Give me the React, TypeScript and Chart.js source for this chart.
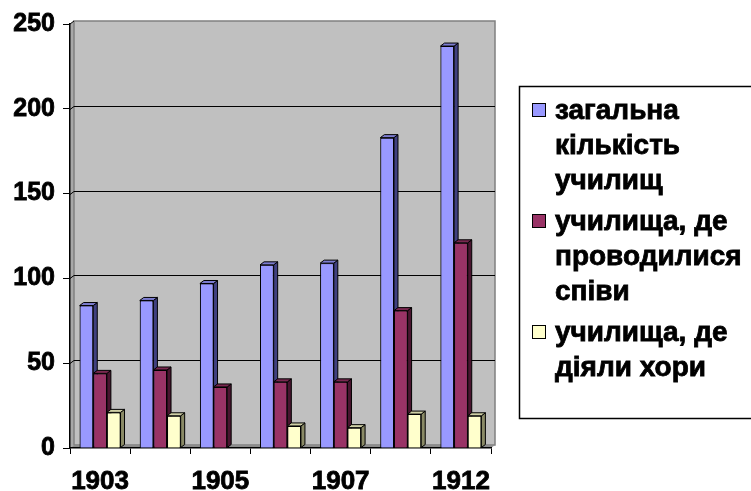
import React, { useEffect, useRef } from "react";
import { Chart, registerables } from "chart.js";

Chart.register(...registerables);

const categories = ["1903", "1904", "1905", "1906", "1907", "1908", "1912"];
const xTickLabels = ["1903", "", "1905", "", "1907", "", "1912"];
const yTicks = [0, 50, 100, 150, 200, 250];

const totalSchools = [84, 87, 97, 108, 109, 183, 237];
const singingSchools = [44, 46, 36, 39, 39, 81, 121];
const choirSchools: (number | null)[] = [21, 19, null, 13, 12, 20, 19];

const seriesLabels = [
  ["загальна", "кількість", "училищ"],
  ["училища, де", "проводилися", "співи"],
  ["училища, де", "діяли хори"],
];

const frontColors = ["#9999FF", "#993366", "#FFFFCC"];
const sideColors = ["#404080", "#4A1530", "#8A8A66"];
const topColors = ["#7C7CD0", "#7A2850", "#D0D0A6"];

const FONT = "'Liberation Sans', Arial, sans-serif";
const DX = 4;
const DY = 3;

const wallsPlugin = {
  id: "walls",
  beforeDraw(chart: any) {
    const { ctx, chartArea } = chart;
    const { left: L, right: R, top: T, bottom: B } = chartArea;
    ctx.save();
    ctx.fillStyle = "#A8A8A8";
    ctx.beginPath();
    ctx.moveTo(L, B);
    ctx.lineTo(L, T);
    ctx.lineTo(L + DX, T - DY);
    ctx.lineTo(L + DX, B - DY);
    ctx.closePath();
    ctx.fill();
    ctx.fillStyle = "#C0C0C0";
    ctx.fillRect(L + DX, T - DY, R - L, B - T);
    ctx.strokeStyle = "#808080";
    ctx.lineWidth = 1.5;
    ctx.strokeRect(L + DX, T - DY, R - L, B - T);
    ctx.fillStyle = "#8C8C8C";
    ctx.beginPath();
    ctx.moveTo(L, B);
    ctx.lineTo(L + DX, B - DY);
    ctx.lineTo(R + DX, B - DY);
    ctx.lineTo(R, B);
    ctx.closePath();
    ctx.fill();
    const ys = chart.scales.y;
    ctx.strokeStyle = "#000000";
    ctx.lineWidth = 1;
    yTicks.forEach((v) => {
      if (v === 0 || v === 250) return;
      const py = Math.round(ys.getPixelForValue(v)) + 0.5;
      ctx.beginPath();
      ctx.moveTo(L, py);
      ctx.lineTo(L + DX, py - DY);
      ctx.lineTo(R + DX, py - DY);
      ctx.stroke();
    });
    const pTop = ys.getPixelForValue(250);
    ctx.beginPath();
    ctx.moveTo(L, pTop);
    ctx.lineTo(L + DX, pTop - DY);
    ctx.stroke();
    ctx.restore();
  },
};

// Redraw bars in series order (first series first) so each following bar covers the previous bar's side face.
const barsPlugin = {
  id: "bars3d",
  afterDatasetsDraw(chart: any) {
    const { ctx } = chart;
    ctx.save();
    chart.data.datasets.forEach((ds: any, idx: number) => {
      const meta = chart.getDatasetMeta(idx);
      meta.data.forEach((el: any, i: number) => {
        if (ds.data[i] == null) return;
        el.draw(ctx);
        const { x, y, width, base } = el.getProps(["x", "y", "width", "base"], true);
        const l = x - width / 2;
        const r = x + width / 2;
        ctx.lineWidth = 1;
        ctx.strokeStyle = "#000000";
        ctx.fillStyle = sideColors[idx];
        ctx.beginPath();
        ctx.moveTo(r, y);
        ctx.lineTo(r + DX, y - DY);
        ctx.lineTo(r + DX, base - DY);
        ctx.lineTo(r, base);
        ctx.closePath();
        ctx.fill();
        ctx.stroke();
        ctx.fillStyle = topColors[idx];
        ctx.beginPath();
        ctx.moveTo(l, y);
        ctx.lineTo(l + DX, y - DY);
        ctx.lineTo(r + DX, y - DY);
        ctx.lineTo(r, y);
        ctx.closePath();
        ctx.fill();
        ctx.stroke();
      });
    });
    ctx.restore();
  },
};

const legendPlugin = {
  id: "customLegend",
  afterDraw(chart: any) {
    const { ctx } = chart;
    ctx.save();
    ctx.fillStyle = "#FFFFFF";
    ctx.fillRect(519, 86, 240, 332);
    ctx.strokeStyle = "#000000";
    ctx.lineWidth = 1.5;
    ctx.strokeRect(519.5, 86.5, 240, 332);
    ctx.font = `bold 28px ${FONT}`;
    ctx.textBaseline = "alphabetic";
    ctx.textAlign = "left";
    const lineH = 35;
    let baseline = 119;
    seriesLabels.forEach((lines, i) => {
      ctx.fillStyle = frontColors[i];
      ctx.fillRect(532, baseline - 16, 13, 13);
      ctx.strokeStyle = "#000000";
      ctx.lineWidth = 1;
      ctx.strokeRect(532.5, baseline - 15.5, 13, 13);
      ctx.fillStyle = "#000000";
      ctx.lineWidth = 0.8;
      lines.forEach((t, j) => {
        ctx.fillText(t, 555, baseline + j * lineH);
        ctx.strokeText(t, 555, baseline + j * lineH);
      });
      baseline += lines.length * lineH + 6;
    });
    ctx.restore();
  },
};

export default function App() {
  const ref = useRef<HTMLCanvasElement | null>(null);
  useEffect(() => {
    if (!ref.current) return;
    const datasets = [totalSchools, singingSchools, choirSchools].map((d, i) => ({
      label: seriesLabels[i].join(" "),
      data: d,
      backgroundColor: frontColors[i],
      borderColor: "#000000",
      borderWidth: 1,
      categoryPercentage: 0.68,
      barPercentage: 1.0,
    }));
    const chart = new Chart(ref.current, {
      type: "bar",
      data: { labels: categories, datasets },
      plugins: [wallsPlugin, barsPlugin, legendPlugin],
      options: {
        animation: false,
        responsive: false,
        maintainAspectRatio: false,
        layout: { padding: { top: 24, right: 260, bottom: 0, left: 0 } },
        plugins: { legend: { display: false }, tooltip: { enabled: false } },
        scales: {
          x: {
            afterFit: (s: any) => {
              s.height = 43;
            },
            grid: {
              offset: true,
              drawOnChartArea: false,
              drawTicks: true,
              tickLength: 6,
              color: "#000000",
            },
            border: { display: true, color: "#000000", width: 1.5 },
            ticks: {
              autoSkip: false,
              maxRotation: 0,
              padding: 12,
              color: "#000000",
              textStrokeColor: "#000000",
              textStrokeWidth: 0.8,
              font: { family: FONT, size: 26, weight: "bold" },
              callback: (_v: any, i: number) => xTickLabels[i],
            },
          },
          y: {
            min: 0,
            max: 250,
            afterFit: (s: any) => {
              s.width = 70;
            },
            grid: {
              drawOnChartArea: false,
              drawTicks: true,
              tickLength: 7,
              color: "#000000",
            },
            border: { display: true, color: "#000000", width: 1.5 },
            ticks: {
              stepSize: 50,
              padding: 8,
              color: "#000000",
              textStrokeColor: "#000000",
              textStrokeWidth: 0.8,
              font: { family: FONT, size: 25, weight: "bold" },
            },
          },
        },
      },
    });
    return () => chart.destroy();
  }, []);
  return (
    <div style={{ position: "absolute", left: 0, top: 0, width: 751, height: 491, background: "#FFFFFF" }}>
      <canvas ref={ref} width={751} height={491} />
    </div>
  );
}
